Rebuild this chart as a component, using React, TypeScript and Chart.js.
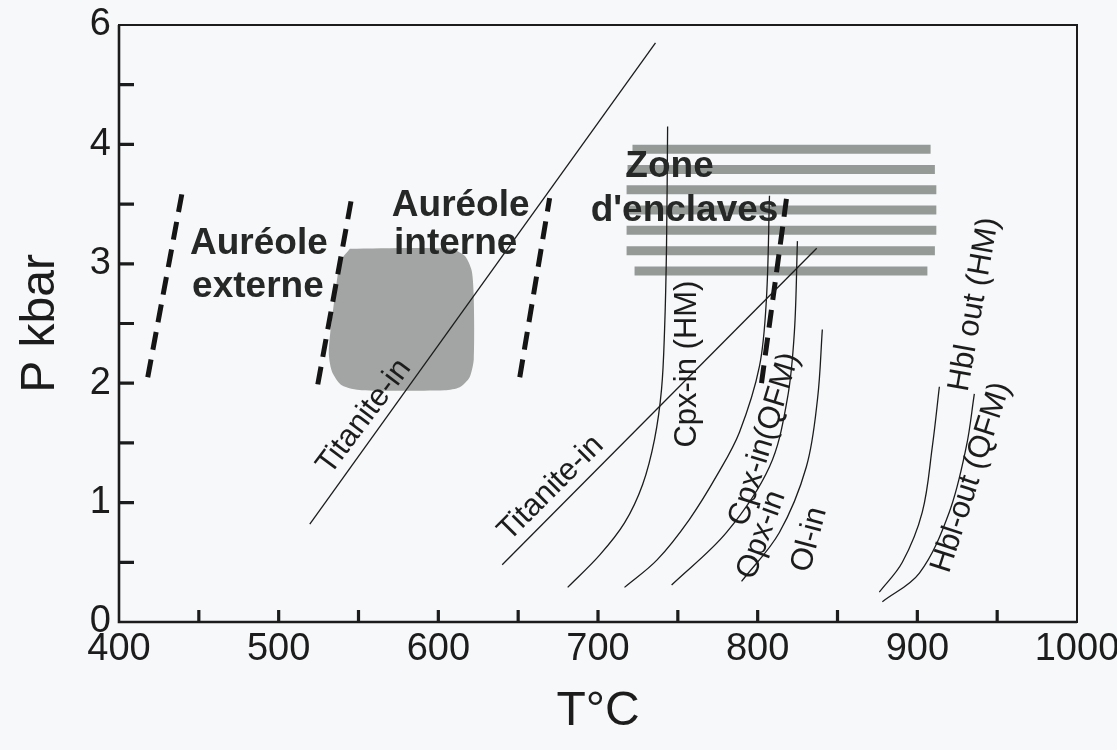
import React, { useEffect, useRef } from 'react';
import { Chart, registerables } from 'chart.js';

Chart.register(...registerables);

// ---------- axes ----------
const T_MIN = 400;
const T_MAX = 1000;
const P_MIN = 0;
const P_MAX = 5; // top of the frame (labelled "6" in the original figure)
const xLabelValues = [400, 500, 600, 700, 800, 900, 1000];
const yLabelValues = [0, 1, 2, 3, 4, 5];
const yLabelTexts = ['0', '1', '2', '3', '4', '6'];

// ---------- reaction curves (T °C, P kbar) ----------
const titanite1T = [519.5, 736.0];
const titanite1P = [0.82, 4.85];

const titanite2T = [640.0, 837.0];
const titanite2P = [0.48, 3.13];

const cpxHmT = [681.0, 701.0, 716.6, 727.9, 735.4, 739.8, 741.7, 742.9, 743.6];
const cpxHmP = [0.29, 0.56, 0.83, 1.15, 1.53, 1.95, 2.45, 3.13, 4.15];

const cpxQfmT = [716.6, 737.0, 757.3, 775.0, 788.6, 801.1, 805.5, 807.4];
const cpxQfmP = [0.29, 0.52, 0.86, 1.24, 1.59, 2.14, 2.71, 3.57];

const opxT = [746.1, 780.5, 807.4, 818.6, 823.0, 824.9];
const opxP = [0.31, 0.75, 1.30, 1.87, 2.43, 3.19];

const olT = [789.9, 813.6, 830.5, 837.5, 840.5];
const olP = [0.34, 0.75, 1.30, 1.87, 2.45];

const hblHmT = [876.2, 890.6, 903.1, 909.4, 913.8];
const hblHmP = [0.25, 0.50, 0.92, 1.47, 1.97];

const hblQfmT = [878.1, 901.3, 920.0, 930.7, 935.7];
const hblQfmP = [0.17, 0.41, 0.92, 1.47, 1.91];

// ---------- dashed aureole limits ----------
const dash1T = [418.0, 440.0];
const dash1P = [2.05, 3.63];
const dash2T = [524.5, 545.8];
const dash2P = [1.99, 3.56];
const dash3T = [651.0, 669.7];
const dash3P = [2.05, 3.55];
const dash4T = [802.4, 818.6];
const dash4P = [2.00, 3.60];

// ---------- grey field (aureole interne) ----------
const blobT = [544.6, 607.1, 616.5, 620.9, 622.2, 622.2, 619.6, 613.4, 604.0, 552.1, 539.5, 533.3, 531.4, 535.8, 538.9, 544.6];
const blobP = [3.126, 3.126, 3.067, 2.941, 2.706, 2.202, 2.050, 1.966, 1.941, 1.941, 1.983, 2.101, 2.269, 2.790, 3.025, 3.126];

// ---------- striped field (zone d'enclaves) ----------
const stripeP = [3.96, 3.79, 3.62, 3.45, 3.28, 3.11, 2.94];
const stripeStartT = [721.6, 718.5, 717.9, 717.9, 717.9, 717.9, 722.9];
const stripeEndT = [908.3, 911.0, 911.9, 911.9, 911.9, 911.0, 906.3];

// ---------- texts ----------
const boldTexts = ['Auréole', 'externe', 'Auréole', 'interne', 'Zone', "d'enclaves"];
const curveTexts = ['Titanite-in', 'Titanite-in', 'Cpx-in (HM)', 'Cpx-in(QFM)', 'Opx-in', 'Ol-in', 'Hbl out (HM)', 'Hbl-out (QFM)'];

// annotation anchors (data units) and rotations
const boldAnchors = [
  { t: 487.6, p: 3.08 },
  { t: 487.0, p: 2.72 },
  { t: 614.0, p: 3.40 },
  { t: 610.9, p: 3.08 },
  { t: 744.8, p: 3.73 },
  { t: 754.2, p: 3.36 },
];
const curveAnchors = [
  { t: 553.5, p: 1.72, rot: -53 },
  { t: 670.5, p: 1.12, rot: -45 },
  { t: 756.1, p: 2.16, rot: -90 },
  { t: 804.3, p: 1.53, rot: -73 },
  { t: 802.4, p: 0.73, rot: -70 },
  { t: 832.4, p: 0.69, rot: -75 },
  { t: 935.7, p: 2.66, rot: -80 },
  { t: 933.8, p: 1.21, rot: -72 },
];

const FONT = "'Liberation Sans', Arial, Helvetica, sans-serif";
const INK = '#1c1c1c';
const BG = '#f7f8fa';

const zip = (xs: number[], ys: number[]) => xs.map((x, i) => ({ x, y: ys[i] }));

const thin = (label: string, t: number[], p: number[], tension = 0.35) => ({
  label,
  data: zip(t, p),
  borderColor: INK,
  borderWidth: 1.3,
  pointRadius: 0,
  tension,
  fill: false,
  order: 1,
});

const dashed = (label: string, t: number[], p: number[]) => ({
  label,
  data: zip(t, p),
  borderColor: '#151515',
  borderWidth: 5,
  borderDash: [18, 10],
  borderCapStyle: 'butt',
  pointRadius: 0,
  fill: false,
  order: 2,
});

const framePlugin = {
  id: 'frameAndNotes',
  beforeDraw(chart: any) {
    const { ctx, width, height } = chart;
    ctx.save();
    ctx.fillStyle = BG;
    ctx.fillRect(0, 0, width, height);
    ctx.restore();
  },
  afterDatasetsDraw(chart: any) {
    const { ctx, chartArea } = chart;
    const xs = chart.scales.x;
    const ys = chart.scales.y;
    ctx.save();
    // frame
    ctx.strokeStyle = INK;
    ctx.lineWidth = 2;
    ctx.strokeRect(chartArea.left, chartArea.top, chartArea.right - chartArea.left, chartArea.bottom - chartArea.top);
    ctx.lineWidth = 2.6;
    ctx.beginPath();
    ctx.moveTo(chartArea.left, chartArea.top);
    ctx.lineTo(chartArea.left, chartArea.bottom);
    ctx.lineTo(chartArea.right, chartArea.bottom);
    ctx.stroke();
    // inward ticks
    ctx.lineWidth = 3.2;
    ctx.beginPath();
    xs.ticks.forEach((tk: any) => {
      if (tk.value > T_MIN && tk.value < T_MAX) {
        const px = xs.getPixelForValue(tk.value);
        ctx.moveTo(px, chartArea.bottom);
        ctx.lineTo(px, chartArea.bottom - 12);
      }
    });
    ys.ticks.forEach((tk: any) => {
      if (tk.value > P_MIN && tk.value < P_MAX) {
        const py = ys.getPixelForValue(tk.value);
        ctx.moveTo(chartArea.left, py);
        ctx.lineTo(chartArea.left + 15, py);
      }
    });
    ctx.stroke();

    // bold region labels
    ctx.fillStyle = '#262827';
    ctx.font = `bold 37px ${FONT}`;
    ctx.textAlign = 'center';
    ctx.textBaseline = 'alphabetic';
    boldTexts.forEach((txt, i) => {
      const a = boldAnchors[i];
      ctx.fillText(txt, xs.getPixelForValue(a.t), ys.getPixelForValue(a.p));
    });

    // curve labels
    ctx.fillStyle = INK;
    ctx.font = `31px ${FONT}`;
    ctx.textBaseline = 'middle';
    curveTexts.forEach((txt, i) => {
      const a = curveAnchors[i];
      ctx.save();
      ctx.translate(xs.getPixelForValue(a.t), ys.getPixelForValue(a.p));
      ctx.rotate((a.rot * Math.PI) / 180);
      ctx.fillText(txt, 0, 0);
      ctx.restore();
    });
    ctx.restore();
  },
};

export default function App() {
  const ref = useRef<HTMLCanvasElement | null>(null);

  useEffect(() => {
    if (!ref.current) return;
    const datasets: any[] = [];

    datasets.push({
      label: 'Auréole interne',
      data: zip(blobT, blobP),
      borderWidth: 0,
      borderColor: 'rgba(0,0,0,0)',
      backgroundColor: '#a2a5a3',
      pointRadius: 0,
      tension: 0.25,
      fill: 'shape',
      order: 10,
    });

    stripeP.forEach((p, i) => {
      datasets.push({
        label: `Zone d'enclaves ${i + 1}`,
        data: zip([stripeStartT[i], stripeEndT[i]], [p, p]),
        borderColor: '#959a97',
        borderWidth: 9,
        borderCapStyle: 'butt',
        pointRadius: 0,
        fill: false,
        order: 9,
      });
    });

    datasets.push(dashed('limite 1', dash1T, dash1P));
    datasets.push(dashed('limite 2', dash2T, dash2P));
    datasets.push(dashed('limite 3', dash3T, dash3P));
    datasets.push(dashed('limite 4', dash4T, dash4P));

    datasets.push(thin('Titanite-in 1', titanite1T, titanite1P, 0));
    datasets.push(thin('Titanite-in 2', titanite2T, titanite2P, 0));
    datasets.push(thin('Cpx-in (HM)', cpxHmT, cpxHmP));
    datasets.push(thin('Cpx-in (QFM)', cpxQfmT, cpxQfmP));
    datasets.push(thin('Opx-in', opxT, opxP));
    datasets.push(thin('Ol-in', olT, olP));
    datasets.push(thin('Hbl out (HM)', hblHmT, hblHmP));
    datasets.push(thin('Hbl-out (QFM)', hblQfmT, hblQfmP));

    const chart = new Chart(ref.current, {
      type: 'line',
      data: { datasets },
      plugins: [framePlugin],
      options: {
        responsive: false,
        animation: false,
        events: [],
        layout: { padding: { left: 0, right: 40, top: 25, bottom: 0 } },
        plugins: {
          legend: { display: false },
          tooltip: { enabled: false },
        },
        scales: {
          x: {
            type: 'linear',
            min: T_MIN,
            max: T_MAX,
            border: { display: false },
            grid: { display: false, drawTicks: false },
            ticks: {
              stepSize: 50,
              autoSkip: false,
              maxRotation: 0,
              padding: 5,
              color: INK,
              font: { family: FONT, size: 38 },
              callback: (v: any) => (xLabelValues.includes(Number(v)) ? String(v) : ''),
            },
            title: {
              display: true,
              text: 'T°C',
              color: INK,
              font: { family: FONT, size: 48 },
              padding: { top: 0, bottom: 9 },
            },
            afterFit: (s: any) => {
              s.height = 128;
              s.paddingLeft = 0;
              s.paddingRight = 0;
            },
          },
          y: {
            type: 'linear',
            min: P_MIN,
            max: P_MAX,
            border: { display: false },
            grid: { display: false, drawTicks: false },
            ticks: {
              stepSize: 0.5,
              autoSkip: false,
              padding: 8,
              color: INK,
              font: { family: FONT, size: 38 },
              callback: (v: any) => {
                const i = yLabelValues.indexOf(Number(v));
                return i >= 0 ? yLabelTexts[i] : '';
              },
            },
            title: {
              display: true,
              text: 'P kbar',
              color: INK,
              font: { family: FONT, size: 48 },
              padding: { top: 12, bottom: 0 },
            },
            afterFit: (s: any) => {
              s.width = 119;
              s.paddingTop = 0;
              s.paddingBottom = 0;
            },
          },
        },
      } as any,
    });
    return () => chart.destroy();
  }, []);

  return (
    <div style={{ position: 'fixed', left: 0, top: 0, width: 1117, height: 750 }}>
      <canvas ref={ref} width={1117} height={750} style={{ width: 1117, height: 750 }} />
    </div>
  );
}
